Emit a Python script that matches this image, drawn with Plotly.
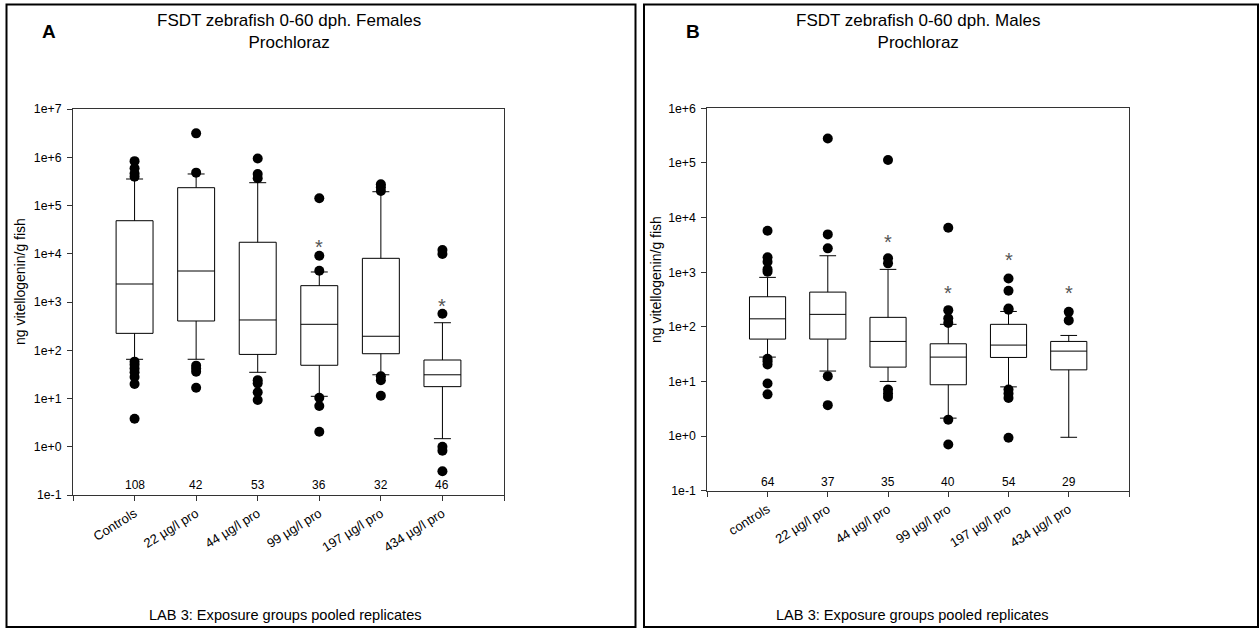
import math
import plotly.graph_objects as go

# ---------------- data ----------------
categories_A = ["Controls", "22 µg/l pro", "44 µg/l pro", "99 µg/l pro", "197 µg/l pro", "434 µg/l pro"]
categories_B = ["controls", "22 µg/l pro", "44 µg/l pro", "99 µg/l pro", "197 µg/l pro", "434 µg/l pro"]

n_A = [108, 42, 53, 36, 32, 46]
q1_A = [224, 404, 82, 48.8, 84.7, 17.6]
med_A = [2360, 4390, 424, 345, 195, 31]
q3_A = [48400, 234000, 17300, 2180, 8040, 62.8]
lo_A = [64.9, 65, 34.9, 11.1, 31, 1.47]
hi_A = [354000, 450000, 297000, 4190, 193000, 372]
outliers_A = [
    [830000, 590000, 460000, 395000, 58, 50, 42, 35, 28, 20, 3.8],
    [3130000, 480000, 48, 42, 36, 16.7],
    [940000, 450000, 366000, 24, 20.6, 13.5, 9.3],
    [141000, 9100, 4460, 10.4, 7.0, 2.05],
    [276000, 240000, 200000, 29, 24, 11.4],
    [12000, 9880, 573, 1.0, 0.83, 0.31],
]
stars_A_x = [3, 5]
stars_A_y = [16500, 1000]

n_B = [64, 37, 35, 40, 54, 29]
q1_B = [59.6, 59.6, 18.3, 8.7, 27.5, 16.3]
med_B = [140, 169, 54, 27.9, 46.3, 35.9]
q3_B = [355, 432, 149, 48.9, 111, 54]
lo_B = [27.9, 15.5, 10, 2.13, 7.96, 0.95]
hi_B = [803, 2000, 1125, 111, 191, 69.5]
outliers_B = [
    [5720, 1870, 1550, 1125, 1020, 26, 23.5, 20.5, 9.2, 5.8],
    [280000, 4920, 2730, 12.5, 3.68],
    [113000, 1790, 1450, 7.1, 6.0, 5.2],
    [6500, 202, 143, 118, 2.0, 0.70],
    [769, 456, 217, 205, 7.1, 6.0, 5.0, 0.93],
    [188, 131],
]
stars_B_x = [2, 3, 4, 5]
stars_B_y = [4270, 497, 2000, 497]

y_ticks_A = [-1, 0, 1, 2, 3, 4, 5, 6, 7]
y_ticks_B = [-1, 0, 1, 2, 3, 4, 5, 6]

titles = ["FSDT zebrafish 0-60 dph. Females<br>Prochloraz",
          "FSDT zebrafish 0-60 dph. Males<br>Prochloraz"]
panel_labels = ["A", "B"]
x_title = "LAB 3: Exposure groups pooled replicates"
y_title = "ng vitellogenin/g fish"

# ---------------- figure ----------------
W, H = 1260, 629
FONT = "Liberation Sans, Arial, sans-serif"
fig = go.Figure()


def px_x(p):
    return p / W


def px_y(p):
    return 1 - p / H


panels = [
    dict(xa="x", ya="y", cats=categories_A, n=n_A, q1=q1_A, med=med_A, q3=q3_A,
         lo=lo_A, hi=hi_A, out=outliers_A, sx=stars_A_x, sy=stars_A_y,
         yt=y_ticks_A, dom_x=[px_x(73), px_x(504)], dom_y=[px_y(495), px_y(109)],
         frame=(6.5, 4.5, 635.5, 627), title_x=288.5, lab_x=49, ytitle_x=20, ytitle_y=282,
         xtitle_x=285, count_y=0.026),
    dict(xa="x2", ya="y2", cats=categories_B, n=n_B, q1=q1_B, med=med_B, q3=q3_B,
         lo=lo_B, hi=hi_B, out=outliers_B, sx=stars_B_x, sy=stars_B_y,
         yt=y_ticks_B, dom_x=[px_x(707.3), px_x(1129)], dom_y=[px_y(490.7), px_y(108.3)],
         frame=(644, 4.5, 1258, 627), title_x=918.3, lab_x=693, ytitle_x=656, ytitle_y=280,
         xtitle_x=912, count_y=0.0235),
]

shapes = []
annotations = []
for i, p in enumerate(panels):
    pos = list(range(len(p["cats"])))
    fig.add_trace(go.Box(
        x=pos, q1=p["q1"], median=p["med"], q3=p["q3"],
        lowerfence=p["lo"], upperfence=p["hi"],
        width=0.6, whiskerwidth=0.46, boxpoints=False,
        fillcolor="white", line=dict(color="black", width=1),
        xaxis=p["xa"], yaxis=p["ya"], showlegend=False, hoverinfo="skip",
    ))
    ox, oy = [], []
    for k, vals in enumerate(p["out"]):
        ox += [k] * len(vals)
        oy += vals
    fig.add_trace(go.Scatter(
        x=ox, y=oy, mode="markers",
        marker=dict(color="black", size=10, line=dict(width=0)),
        xaxis=p["xa"], yaxis=p["ya"], showlegend=False, hoverinfo="skip",
    ))

    sfx = "" if i == 0 else "2"
    fig.update_layout(**{
        "xaxis" + sfx: dict(
            domain=p["dom_x"], anchor=p["ya"], range=[-1, 6], automargin=False,
            tickmode="array", tickvals=list(range(-1, 7)),
            ticktext=[""] + p["cats"] + [""],
            ticks="outside", ticklen=5, tickcolor="#333", tickwidth=1,
            showline=True, linecolor="#333", linewidth=1, mirror=True,
            showgrid=False, zeroline=False, tickangle=-32,
            tickfont=dict(family=FONT, size=13, color="black"),
        ),
        "yaxis" + sfx: dict(
            domain=p["dom_y"], anchor=p["xa"], type="log", automargin=False,
            range=[p["yt"][0], p["yt"][-1]],
            tickmode="array", tickvals=[10 ** k for k in p["yt"]],
            ticktext=[("1e+%d" % k) if k >= 0 else ("1e%d" % k) for k in p["yt"]],
            ticks="outside", ticklen=5, tickcolor="#333", tickwidth=1,
            showline=True, linecolor="#333", linewidth=1, mirror=True,
            showgrid=False, zeroline=False, ticklabelstandoff=3,
            tickfont=dict(family=FONT, size=12.3, color="black"),
        ),
    })

    x0, y0, x1, y1 = p["frame"]
    shapes.append(dict(type="rect", xref="paper", yref="paper",
                       x0=px_x(x0), x1=px_x(x1), y0=px_y(y1), y1=px_y(y0),
                       line=dict(color="black", width=2), fillcolor="rgba(0,0,0,0)"))

    annotations.append(dict(text=titles[i], xref="paper", yref="paper",
                            x=px_x(p["title_x"]), y=px_y(31.5), xanchor="center", yanchor="middle",
                            showarrow=False, font=dict(family=FONT, size=17, color="black")))
    annotations.append(dict(text="<b>%s</b>" % panel_labels[i], xref="paper", yref="paper",
                            x=px_x(p["lab_x"]), y=px_y(32), xanchor="center", yanchor="middle",
                            showarrow=False, font=dict(family=FONT, size=19, color="black")))
    annotations.append(dict(text=y_title, xref="paper", yref="paper", textangle=-90,
                            x=px_x(p["ytitle_x"]), y=px_y(p["ytitle_y"]), xanchor="center", yanchor="middle",
                            showarrow=False, font=dict(family=FONT, size=14, color="black")))
    annotations.append(dict(text=x_title, xref="paper", yref="paper",
                            x=px_x(p["xtitle_x"]), y=px_y(615), xanchor="center", yanchor="middle",
                            showarrow=False, font=dict(family=FONT, size=14.6, color="black")))
    for k, n in enumerate(p["n"]):
        annotations.append(dict(text=str(n), xref=p["xa"], yref=p["ya"] + " domain",
                                x=k, y=p["count_y"], xanchor="center", yanchor="middle",
                                showarrow=False, font=dict(family=FONT, size=12, color="black")))
    for sx, sy in zip(p["sx"], p["sy"]):
        annotations.append(dict(text="*", xref=p["xa"], yref=p["ya"],
                                x=sx, y=math.log10(sy), xanchor="center", yanchor="middle",
                                yshift=-4, showarrow=False,
                                font=dict(family=FONT, size=20, color="#555")))

fig.update_layout(
    width=W, height=H, autosize=False,
    margin=dict(l=0, r=0, t=0, b=0, pad=0, autoexpand=False),
    paper_bgcolor="white", plot_bgcolor="white",
    shapes=shapes, annotations=annotations, showlegend=False,
    font=dict(family=FONT, color="black"),
)

fig.write_html(
    "out.html",
    config={"displayModeBar": False, "responsive": False},
    post_script="document.body.style.margin='0';document.body.style.padding='0';"
                "document.body.style.overflow='hidden';",
)
